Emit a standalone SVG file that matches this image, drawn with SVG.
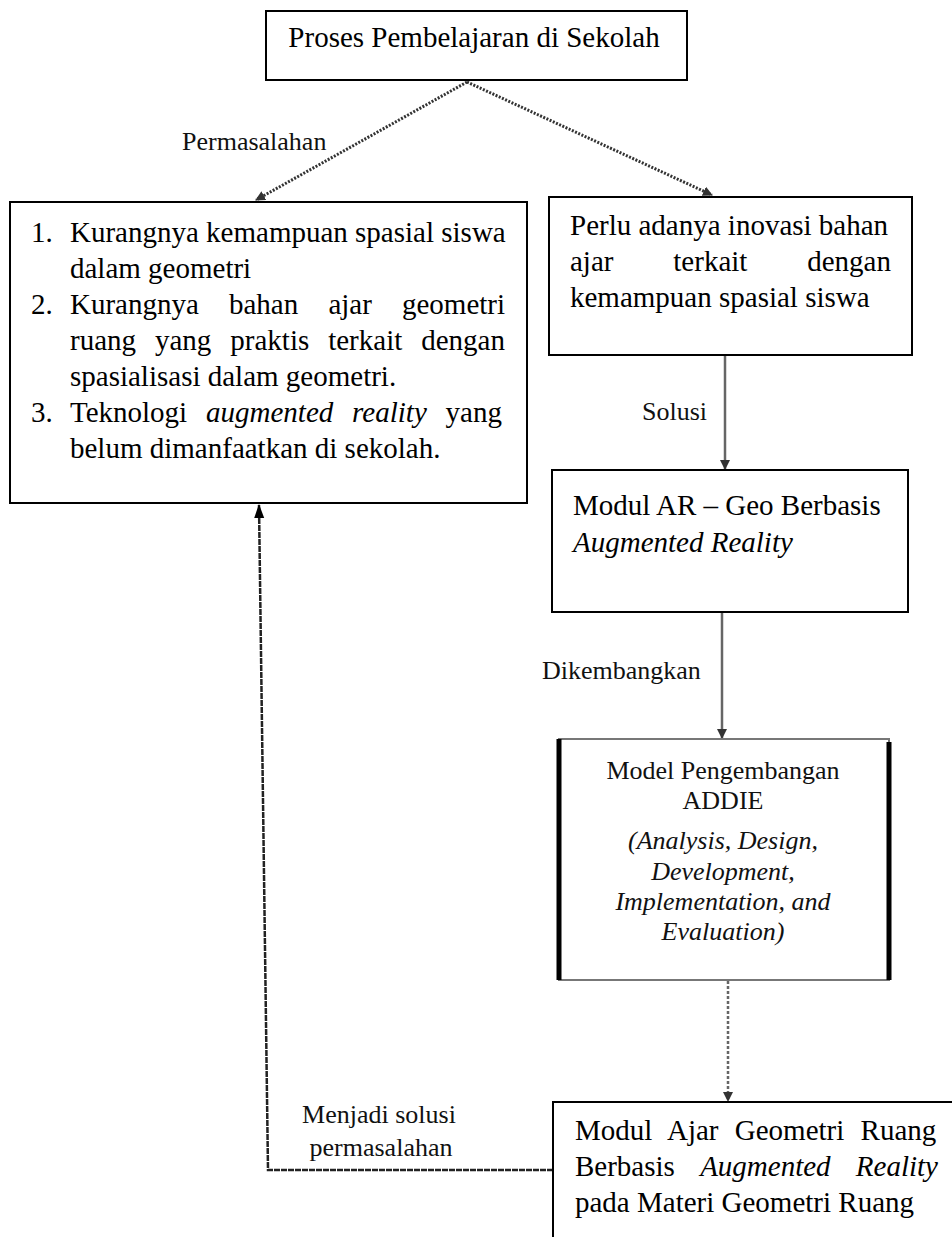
<svg xmlns="http://www.w3.org/2000/svg" width="952" height="1237" viewBox="0 0 952 1237">
<defs>
<style>
.box{fill:#fff;stroke:#000;stroke-width:2}
.t{font-family:"Liberation Serif","Times New Roman",serif;font-size:29px;fill:#000}
.lbl{font-family:"Liberation Serif","Times New Roman",serif;font-size:26px;fill:#111}
.sm{font-family:"Liberation Serif","Times New Roman",serif;font-size:26px;fill:#111}
.i{font-style:italic}
.c{fill:none;stroke:#666;stroke-width:2.5}
.dot{fill:none;stroke:#333;stroke-width:3;stroke-dasharray:2 1.5}
</style>
<marker id="ah" markerWidth="10" markerHeight="10" refX="9" refY="5" orient="auto" markerUnits="userSpaceOnUse">
<path d="M0,0 L10,5 L0,10 z" fill="#333"/>
</marker>
<marker id="ahb" markerWidth="14" markerHeight="14" refX="13" refY="7" orient="auto" markerUnits="userSpaceOnUse">
<path d="M0,2 L14,7 L0,12 z" fill="#000"/>
</marker>
</defs>
<rect width="952" height="1237" fill="#fff"/>

<g id="connectors">
<line class="dot" x1="467" y1="82" x2="256" y2="200" marker-end="url(#ah)"/>
<line class="dot" x1="467" y1="82" x2="712" y2="195" marker-end="url(#ah)"/>
<line class="c" x1="725" y1="356" x2="725" y2="469" marker-end="url(#ah)"/>
<line class="c" x1="722" y1="613" x2="722" y2="738" marker-end="url(#ah)"/>
<line class="c" x1="728" y1="981" x2="728" y2="1101" stroke-dasharray="3 2" marker-end="url(#ah)"/>
<polyline fill="none" stroke="#222" stroke-width="2.5" stroke-dasharray="6 1" points="553,1170 268,1170 259,505" marker-end="url(#ahb)"/>
<text class="lbl" x="182" y="150">Permasalahan</text>
<text class="lbl" x="642" y="420">Solusi</text>
<text class="lbl" x="542" y="679">Dikembangkan</text>
<text class="lbl" x="379" y="1123" text-anchor="middle">Menjadi solusi</text>
<text class="lbl" x="381" y="1156" text-anchor="middle">permasalahan</text>
</g>

<g id="node-proses">
<rect class="box" x="266" y="11" width="421" height="69"/>
<text class="t" x="474" y="47" text-anchor="middle">Proses Pembelajaran di Sekolah</text>
</g>

<g id="node-masalah">
<rect class="box" x="10" y="202" width="517" height="301" stroke-width="3"/>
<text class="t" x="31" y="242">1.</text>
<text class="t" x="70" y="242">Kurangnya kemampuan spasial siswa</text>
<text class="t" x="70" y="278">dalam geometri</text>
<text class="t" x="31" y="314">2.</text>
<text class="t" x="70" y="314" word-spacing="22.9">Kurangnya bahan ajar geometri</text>
<text class="t" x="70" y="350" word-spacing="11.7">ruang yang praktis terkait dengan</text>
<text class="t" x="70" y="386">spasialisasi dalam geometri.</text>
<text class="t" x="31" y="422">3.</text>
<text class="t" x="70" y="422" word-spacing="11.6">Teknologi <tspan class="i">augmented reality</tspan> yang</text>
<text class="t" x="70" y="458">belum dimanfaatkan di sekolah.</text>
</g>

<g id="node-inovasi">
<rect class="box" x="549" y="197" width="363" height="158"/>
<text class="t" x="570" y="235">Perlu adanya inovasi bahan</text>
<text class="t" x="570" y="271" word-spacing="52.6">ajar terkait dengan</text>
<text class="t" x="570" y="307">kemampuan spasial siswa</text>
</g>

<g id="node-modul-ar">
<rect class="box" x="552" y="470" width="356" height="142"/>
<text class="t" x="573" y="515">Modul AR – Geo Berbasis</text>
<text class="t i" x="573" y="552">Augmented Reality</text>
</g>

<g id="node-model">
<rect x="559" y="739" width="330" height="241" fill="#fff" stroke="#777" stroke-width="2"/>
<line x1="559" y1="739" x2="559" y2="980" stroke="#000" stroke-width="5"/>
<line x1="889" y1="742" x2="889" y2="980" stroke="#000" stroke-width="5"/>
<text class="sm" x="723" y="779" text-anchor="middle">Model Pengembangan</text>
<text class="sm" x="723" y="809" text-anchor="middle">ADDIE</text>
<text class="sm i" x="723" y="849" text-anchor="middle">(Analysis, Design,</text>
<text class="sm i" x="723" y="880" text-anchor="middle">Development,</text>
<text class="sm i" x="723" y="910" text-anchor="middle">Implementation, and</text>
<text class="sm i" x="723" y="940" text-anchor="middle">Evaluation)</text>
</g>

<g id="node-modul-ajar">
<rect class="box" x="553" y="1102" width="420" height="160"/>
<text class="t" x="575" y="1140" word-spacing="9">Modul Ajar Geometri Ruang</text>
<text class="t" x="575" y="1176" word-spacing="18">Berbasis <tspan class="i">Augmented Reality</tspan></text>
<text class="t" x="575" y="1212">pada Materi Geometri Ruang</text>
</g>
</svg>
